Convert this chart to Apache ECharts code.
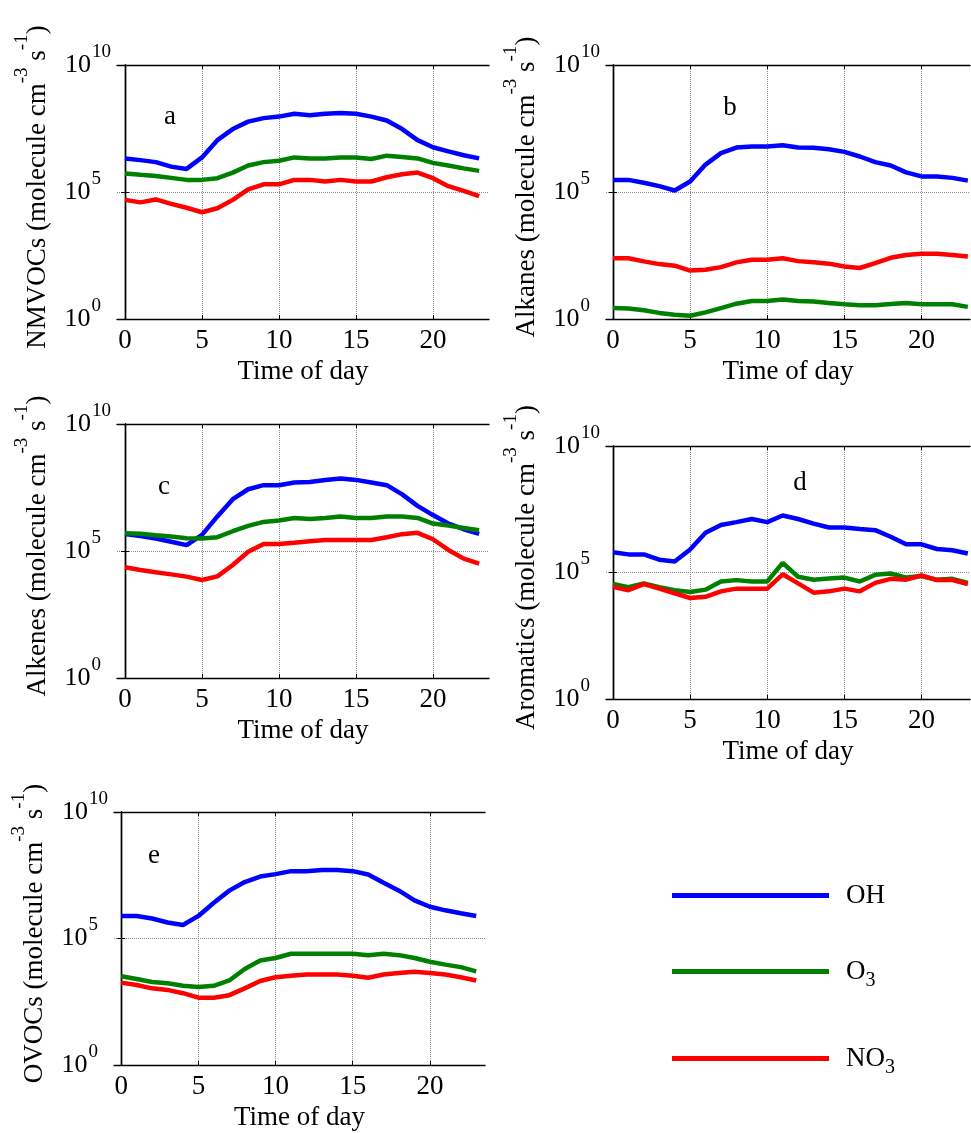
<!DOCTYPE html>
<html>
<head>
<meta charset="utf-8">
<script src="https://cdn.jsdelivr.net/npm/echarts@6/dist/echarts.min.js"></script>
<style>
html,body{margin:0;padding:0;background:#fff;}
#chart{width:971px;height:1133px;}
</style>
</head>
<body>
<div id="chart"></div>
<script>
// ---------------- data ----------------
const hours = [0,1,2,3,4,5,6,7,8,9,10,11,12,13,14,15,16,17,18,19,20,21,22,23];
const xTickValues = [0,5,10,15,20];
const seriesNames = ['OH','O3','NO3'];

// (a) NMVOCs
const ohA  = [2.1e6,1.8e6,1.5e6,1.0e6,8.1e5,2.3e6,1.1e7,3.0e7,5.9e7,8.1e7,9.3e7,1.2e8,1.05e8,1.2e8,1.3e8,1.2e8,9.3e7,6.5e7,3.0e7,1.1e7,5.8e6,4.0e6,2.8e6,2.1e6];
const o3A  = [5.4e5,4.8e5,4.3e5,3.6e5,3.0e5,3.0e5,3.5e5,5.8e5,1.1e6,1.5e6,1.7e6,2.3e6,2.1e6,2.1e6,2.3e6,2.3e6,2.0e6,2.7e6,2.4e6,2.1e6,1.4e6,1.1e6,8.5e5,6.8e5];
const no3A = [4.9e4,3.9e4,5.1e4,3.4e4,2.4e4,1.6e4,2.3e4,4.9e4,1.26e5,2.0e5,2.0e5,3.0e5,3.0e5,2.6e5,3.0e5,2.6e5,2.6e5,3.8e5,5.0e5,5.8e5,3.5e5,1.7e5,1.1e5,6.9e4];
// (b) Alkanes
const ohB  = [3.0e5,3.0e5,2.3e5,1.7e5,1.15e5,2.6e5,1.2e6,3.4e6,5.6e6,6.2e6,6.2e6,6.9e6,5.6e6,5.5e6,4.8e6,3.8e6,2.5e6,1.5e6,1.1e6,5.9e5,4.1e5,4.1e5,3.6e5,2.8e5];
const o3B  = [2.7,2.6,2.2,1.74,1.48,1.35,1.82,2.7,4.0,5.1,5.1,5.8,5.1,4.9,4.3,3.8,3.5,3.5,3.9,4.3,3.8,3.8,3.8,3.0];
const no3B = [245,245,186,145,126,81,87,110,170,214,214,245,190,170,151,117,102,158,257,331,372,372,331,288];
// (c) Alkenes
const ohC  = [4.7e5,3.9e5,3.1e5,2.3e5,1.7e5,4.3e5,2.3e6,1.1e7,2.7e7,3.9e7,3.9e7,5.0e7,5.2e7,6.3e7,7.2e7,6.3e7,5.0e7,3.9e7,1.7e7,6.0e6,2.6e6,1.2e6,7.2e5,4.7e5];
const o3C  = [5.0e5,4.8e5,4.2e5,3.7e5,3.2e5,3.1e5,3.5e5,6.0e5,9.8e5,1.4e6,1.6e6,2.0e6,1.8e6,2.0e6,2.3e6,2.0e6,2.0e6,2.3e6,2.3e6,2.0e6,1.2e6,1.0e6,8.1e5,6.6e5];
const no3C = [2.3e4,1.8e4,1.45e4,1.2e4,9.8e3,7.2e3,1.0e4,2.8e4,9.3e4,1.9e5,1.9e5,2.1e5,2.4e5,2.7e5,2.7e5,2.7e5,2.7e5,3.5e5,4.6e5,5.2e5,2.9e5,1.1e5,5.0e4,3.2e4];
// (d) Aromatics
const ohD  = [6.3e5,5.2e5,5.2e5,3.2e5,2.7e5,8.1e5,3.7e6,7.6e6,9.8e6,1.3e7,9.8e6,1.8e7,1.3e7,8.5e6,6.0e6,6.0e6,5.2e6,4.7e6,2.6e6,1.3e6,1.3e6,8.5e5,7.6e5,5.6e5];
const o3D  = [3.5e4,2.6e4,3.7e4,2.6e4,2.0e4,1.7e4,2.1e4,4.4e4,5.0e4,4.4e4,4.4e4,2.4e5,6.8e4,5.2e4,5.8e4,6.3e4,4.4e4,8.1e4,9.1e4,6.3e4,7.2e4,5.2e4,5.6e4,3.9e4];
const no3D = [2.7e4,2.0e4,3.5e4,2.3e4,1.5e4,9.8e3,1.1e4,1.8e4,2.3e4,2.3e4,2.3e4,8.5e4,3.7e4,1.6e4,1.8e4,2.3e4,1.8e4,3.9e4,5.6e4,5.2e4,7.6e4,5.0e4,5.0e4,3.5e4];
// (e) OVOCs
const ohE  = [7.8e5,7.8e5,6.2e5,4.3e5,3.4e5,7.8e5,2.6e6,7.8e6,1.7e7,2.8e7,3.5e7,4.6e7,4.6e7,5.1e7,5.1e7,4.6e7,3.4e7,1.6e7,7.8e6,3.2e6,1.8e6,1.3e6,1.0e6,7.8e5];
const o3E  = [3.2e3,2.5e3,1.9e3,1.7e3,1.35e3,1.2e3,1.35e3,2.2e3,6.2e3,1.35e4,1.7e4,2.5e4,2.5e4,2.5e4,2.5e4,2.5e4,2.2e4,2.5e4,2.2e4,1.7e4,1.2e4,9.3e3,7.4e3,5.0e3];
const no3E = [1.8e3,1.45e3,1.07e3,930,690,457,457,575,1.07e3,2.1e3,2.95e3,3.4e3,3.8e3,3.8e3,3.8e3,3.4e3,2.8e3,3.8e3,4.3e3,4.8e3,4.3e3,3.8e3,2.95e3,2.2e3];

const panelLetters = ['a','b','c','d','e'];
const panelTitles = ['NMVOCs','Alkanes','Alkenes','Aromatics','OVOCs'];
const xTitle = 'Time of day';
const panelData = [[ohA,o3A,no3A],[ohB,o3B,no3B],[ohC,o3C,no3C],[ohD,o3D,no3D],[ohE,o3E,no3E]];

// ---------------- layout / style ----------------
const FONT = "'Liberation Serif','Times New Roman',serif";
const COLORS = ['#0000FF','#008000','#FF0000'];
const layout = [
  {left:117, top:65,  width:372, height:254, xmin:-0.52, xmax:23.64, letter:[170,117]},
  {left:606, top:65,  width:364, height:254, xmin:-0.45, xmax:23.14, letter:[730,108]},
  {left:117, top:424, width:372, height:254, xmin:-0.52, xmax:23.64, letter:[164,487]},
  {left:606, top:446, width:364, height:253, xmin:-0.45, xmax:23.14, letter:[800,483]},
  {left:114, top:812, width:371, height:253, xmin:-0.47, xmax:23.57, letter:[154,856]}
];

const grids = [], xAxes = [], yAxes = [], series = [], graphics = [];

const supStyle = (padRight) => ({fontSize:19, fontFamily:FONT, color:'#000', verticalAlign:'top', padding:[0,padRight,26,1]});

layout.forEach((L, i) => {
  grids.push({left:L.left, top:L.top, width:L.width, height:L.height, containLabel:false});
  const axLine = {show:true, lineStyle:{color:'#000', width:1.4}};
  // bottom x axis
  xAxes.push({
    type:'value', gridIndex:i, position:'bottom', min:L.xmin, max:L.xmax,
    axisLine:axLine,
    axisTick:{show:true, inside:true, length:4, customValues:xTickValues, lineStyle:{color:'#000', width:1}},
    axisLabel:{show:true, customValues:xTickValues, margin:8, color:'#000', fontFamily:FONT, fontSize:27},
    splitLine:{show:true, lineStyle:{color:'#888', type:'dotted', width:1}},
    name:xTitle, nameLocation:'middle', nameGap:39,
    nameTextStyle:{color:'#000', fontFamily:FONT, fontSize:27}
  });
  // top x axis (frame + ticks)
  xAxes.push({
    type:'value', gridIndex:i, position:'top', min:L.xmin, max:L.xmax,
    axisLine:axLine,
    axisTick:{show:true, inside:true, length:4, customValues:xTickValues, lineStyle:{color:'#000', width:1}},
    axisLabel:{show:false}, splitLine:{show:false}
  });
  // left y axis
  yAxes.push({
    type:'log', logBase:10, gridIndex:i, position:'left', min:1, max:1e10, interval:5,
    axisLine:axLine,
    axisTick:{show:true, inside:true, length:4, lineStyle:{color:'#000', width:1}},
    axisLabel:{
      show:true, margin:6, color:'#000', fontFamily:FONT,
      formatter: v => {
        const e = String(Math.round(Math.log10(v)));
        return '{b|10}{' + (e.length > 1 ? 's2' : 's1') + '|' + e + '}';
      },
      rich:{
        b:{fontSize:26, fontFamily:FONT, color:'#000', verticalAlign:'middle'},
        s1:supStyle(10),
        s2:supStyle(0)
      }
    },
    splitLine:{show:true, lineStyle:{color:'#888', type:'dotted', width:1}},
    name: panelTitles[i] + ' (molecule cm{s|-3} s{s|-1})',
    nameLocation:'middle', nameRotate:90, nameGap:55,
    nameTextStyle:{
      color:'#000', fontFamily:FONT, fontSize:27, padding:[0,0,0,10],
      rich:{
        s:{fontSize:19, fontFamily:FONT, color:'#000', verticalAlign:'top', padding:[0,0,30,0]}
      }
    }
  });
  // right y axis (frame + ticks)
  yAxes.push({
    type:'log', logBase:10, gridIndex:i, position:'right', min:1, max:1e10, interval:5,
    axisLine:axLine,
    axisTick:{show:true, inside:true, length:4, lineStyle:{color:'#000', width:1}},
    axisLabel:{show:false}, splitLine:{show:false}
  });
  panelData[i].forEach((vals, k) => {
    series.push({
      type:'line', name:seriesNames[k],
      xAxisIndex:2*i, yAxisIndex:2*i,
      data: hours.map((h, j) => [h, vals[j]]),
      symbol:'none', smooth:false,
      lineStyle:{color:COLORS[k], width:4.5},
      itemStyle:{color:COLORS[k]},
      z: 3 + k
    });
  });
  graphics.push({
    type:'text', x:L.letter[0], y:L.letter[1],
    style:{text:panelLetters[i], fontFamily:FONT, fontSize:27, fill:'#000', align:'center', verticalAlign:'middle'}
  });
});

const legendTops = [879, 955, 1042];
const legendFmt = {
  'OH':'{m|OH}',
  'O3':'{m|O}{u|3}',
  'NO3':'{m|NO}{u|3}'
};
const legends = seriesNames.map((n, k) => ({
  data:[n], orient:'vertical', left:667, top:legendTops[k] - 2,
  icon:'rect', itemWidth:157, itemHeight:5, selectedMode:false,
  formatter: name => legendFmt[name],
  textStyle:{
    color:'#000', fontFamily:FONT, fontSize:27, padding:[0,0,0,12],
    rich:{
      m:{fontSize:27, fontFamily:FONT, color:'#000', verticalAlign:'middle'},
      u:{fontSize:20, fontFamily:FONT, color:'#000', verticalAlign:'bottom', padding:[18,0,0,0]}
    }
  }
}));

const chart = echarts.init(document.getElementById('chart'), null, {renderer:'canvas'});
chart.setOption({
  animation:false,
  backgroundColor:'#fff',
  grid:grids, xAxis:xAxes, yAxis:yAxes, series:series,
  legend:legends,
  graphic:graphics
});
</script>
</body>
</html>
